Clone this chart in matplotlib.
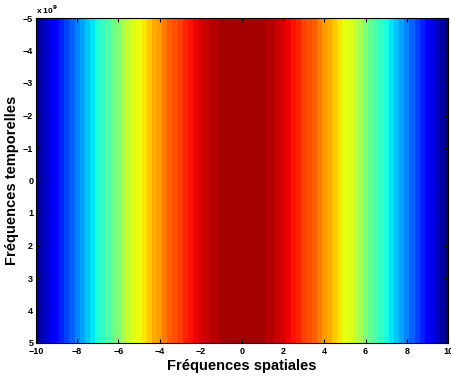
import numpy as np
import matplotlib
matplotlib.use("Agg")
import matplotlib.pyplot as plt
from matplotlib.ticker import FuncFormatter

plt.rcParams['font.family'] = ['Liberation Sans', 'DejaVu Sans']
plt.rcParams['font.weight'] = 'bold'

# Spatial frequency samples (right half, mirrored) and read intensity profile
x_half = [0.0, 0.25, 0.5, 0.75, 1.0, 1.25, 1.5, 1.75, 2.0, 2.25, 2.5, 2.75,
          3.0, 3.25, 3.5, 3.75, 4.0, 4.25, 4.5, 4.75, 5.0, 5.25, 5.5, 5.75,
          6.0, 6.25, 6.5, 6.75, 7.0, 7.25, 7.5, 7.75, 8.0, 8.25, 8.5, 8.75,
          9.0, 9.25, 9.5, 9.75, 10.0]
profile_half = [1.000, 1.000, 0.999, 0.997, 0.993, 0.987, 0.979, 0.968, 0.955,
                0.939, 0.920, 0.899, 0.877, 0.854, 0.830, 0.805, 0.779, 0.752,
                0.724, 0.695, 0.665, 0.634, 0.602, 0.569, 0.536, 0.503, 0.470,
                0.436, 0.402, 0.368, 0.334, 0.300, 0.266, 0.232, 0.198, 0.168,
                0.138, 0.105, 0.070, 0.035, 0.000]
x_ticks = [-10, -8, -6, -4, -2, 0, 2, 4, 6, 8, 10]
y_ticks = [-5, -4, -3, -2, -1, 0, 1, 2, 3, 4, 5]  # x 10^9
y_limits = [-5e9, 5e9]

profile = np.array(profile_half[:0:-1] + profile_half)
data = np.tile(profile, (2, 1))

fig = plt.figure(figsize=(4.52, 3.78), dpi=100)
ax = fig.add_axes([36/452, 35/378, 412/452, 325/378])

dx = x_half[1] - x_half[0]
ax.imshow(data, cmap=plt.get_cmap('jet', 64), aspect='auto',
          extent=[-10 - dx/2, 10 + dx/2, y_limits[1], y_limits[0]],
          interpolation='nearest', vmin=0, vmax=1.04)
ax.set_xlim(-10, 10)
ax.set_ylim(y_limits[1], y_limits[0])
ax.set_xticks(x_ticks)
ax.set_yticks([v * 1e9 for v in y_ticks])
ax.yaxis.set_major_formatter(FuncFormatter(lambda v, p: f"{v/1e9:g}".replace('-', '\u2212')))
ax.xaxis.set_major_formatter(FuncFormatter(lambda v, p: f"{v:g}".replace('-', '\u2212')))
ax.tick_params(direction='in', length=3, width=0.8, labelsize=6.5,
               top=True, right=True)
ax.tick_params(axis='x', pad=3)
ax.tick_params(axis='y', pad=2)
for lab in ax.get_xticklabels() + ax.get_yticklabels():
    lab.set_fontweight('bold')
for s in ax.spines.values():
    s.set_linewidth(0.8)

ax.set_xlabel('Fréquences spatiales', fontsize=10.5, fontweight='bold', labelpad=2)
ax.set_ylabel('Fréquences temporelles', fontsize=10.5, fontweight='bold', labelpad=3)
ax.text(0.0, 1.005, 'x 10$^{9}$', transform=ax.transAxes, fontsize=6,
        fontweight='bold', ha='left', va='bottom')

fig.savefig('out.png', dpi=100)
